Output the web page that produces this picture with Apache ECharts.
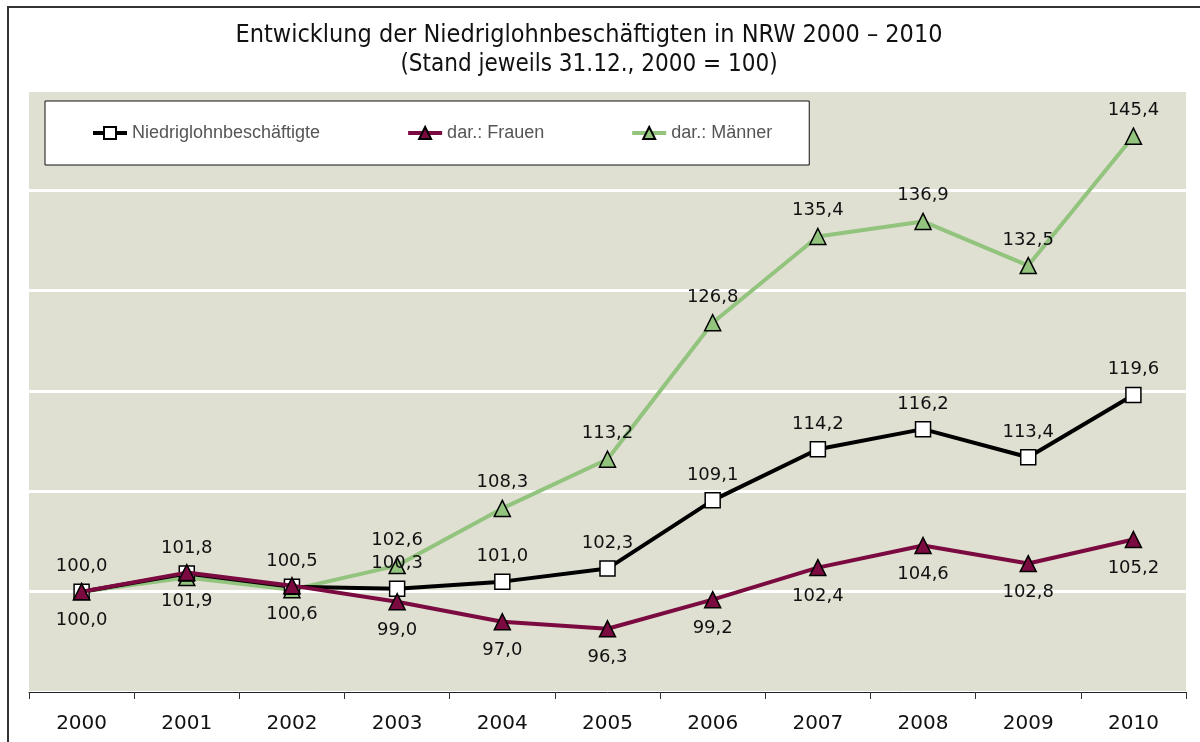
<!DOCTYPE html>
<html lang="de">
<head>
    <meta charset="UTF-8">
    <title>Niedriglohnbeschäftigte NRW</title>
    <script src="https://cdn.jsdelivr.net/npm/echarts@6/dist/echarts.min.js"></script>
    <style>
        body { margin: 0; }
        #main { width: 1200px; height: 742px; }
    </style>
</head>
<body>
<div id="main"></div>
<script>
    var jahre = ['2000', '2001', '2002', '2003', '2004', '2005', '2006', '2007', '2008', '2009', '2010'];
    var niedriglohn = [100.0, 101.8, 100.5, 100.3, 101.0, 102.3, 109.1, 114.2, 116.2, 113.4, 119.6];
    var frauen = [100.0, 101.9, 100.6, 99.0, 97.0, 96.3, 99.2, 102.4, 104.6, 102.8, 105.2];
    var maenner = [100.0, 101.4, 100.2, 102.6, 108.3, 113.2, 126.8, 135.4, 136.9, 132.5, 145.4];
    // Männer-Werte erst ab 2003 beschriftet
    var maennerLabelAb = 3;

    var numFont = "'DejaVu Sans', sans-serif";
    var titleFont = "'DejaVu Sans Condensed', 'Liberation Sans Narrow', sans-serif";

    var fmt = function (p) {
        return p.value.toFixed(1).replace('.', ',');
    };

    var labelOben = { show: true, position: 'top', distance: 8, color: '#111', fontSize: 18, fontFamily: numFont, formatter: fmt };
    var labelUnten = { show: true, position: 'bottom', distance: 11, color: '#111', fontSize: 18, fontFamily: numFont, formatter: fmt };

    var maennerDaten = maenner.map(function (v, i) {
        return i < maennerLabelAb ? { value: v, label: { show: false } } : v;
    });

    var option = {
        backgroundColor: '#fff',
        animation: false,
        title: {
            text: 'Entwicklung der Niedriglohnbeschäftigten in NRW 2000 – 2010',
            subtext: '(Stand jeweils 31.12., 2000 = 100)',
            left: 584,
            top: 18,
            textAlign: 'center',
            itemGap: 5,
            textStyle: { fontSize: 25, fontWeight: 'normal', color: '#111', fontFamily: titleFont },
            subtextStyle: { fontSize: 24, color: '#111', fontFamily: titleFont }
        },
        legend: {
            left: 45,
            top: 101,
            padding: [23, 37, 23, 46],
            itemGap: 86,
            itemWidth: 34,
            itemHeight: 15,
            backgroundColor: '#fff',
            borderColor: '#111',
            borderWidth: 1,
            lineStyle: { width: 4 },
            textStyle: { color: '#555', fontSize: 18, fontFamily: "'Liberation Sans', Arial, sans-serif" },
            data: ['Niedriglohnbeschäftigte', 'dar.: Frauen', 'dar.: Männer']
        },
        graphic: [{
            type: 'rect',
            shape: { x: 8, y: 7, width: 1200, height: 760 },
            style: { fill: 'none', stroke: '#333', lineWidth: 2 },
            silent: true
        }],
        grid: {
            left: 29,
            right: 14,
            top: 90,
            bottom: 50,
            show: true,
            backgroundColor: '#dfdfd2',
            borderWidth: 0
        },
        xAxis: {
            type: 'category',
            data: jahre,
            boundaryGap: true,
            axisLine: { lineStyle: { color: '#222', width: 1 } },
            axisTick: { show: true, length: 7, lineStyle: { color: '#333' } },
            axisLabel: { color: '#111', fontSize: 20, fontFamily: numFont, margin: 22 }
        },
        yAxis: {
            type: 'value',
            min: 90,
            max: 150,
            interval: 10,
            axisLabel: { show: false },
            axisLine: { show: false },
            axisTick: { show: false },
            splitLine: { lineStyle: { color: '#fff', width: 3 } }
        },
        series: [{
            name: 'Niedriglohnbeschäftigte',
            type: 'line',
            data: niedriglohn,
            z: 3,
            symbol: 'rect',
            symbolSize: 15,
            lineStyle: { color: '#000', width: 4 },
            itemStyle: { color: '#fff', borderColor: '#000', borderWidth: 1.5 },
            label: labelOben
        }, {
            name: 'dar.: Frauen',
            type: 'line',
            data: frauen,
            z: 4,
            symbol: 'triangle',
            symbolSize: 16,
            lineStyle: { color: '#7a0a3f', width: 4 },
            itemStyle: { color: '#7a0a3f', borderColor: '#000', borderWidth: 1.5 },
            label: labelUnten
        }, {
            name: 'dar.: Männer',
            type: 'line',
            data: maennerDaten,
            z: 2,
            symbol: 'triangle',
            symbolSize: 16,
            lineStyle: { color: '#92c47e', width: 4 },
            itemStyle: { color: '#92c47e', borderColor: '#000', borderWidth: 1.5 },
            label: labelOben
        }]
    };

    var myChart = echarts.init(document.getElementById('main'));
    myChart.setOption(option);
</script>
</body>
</html>
